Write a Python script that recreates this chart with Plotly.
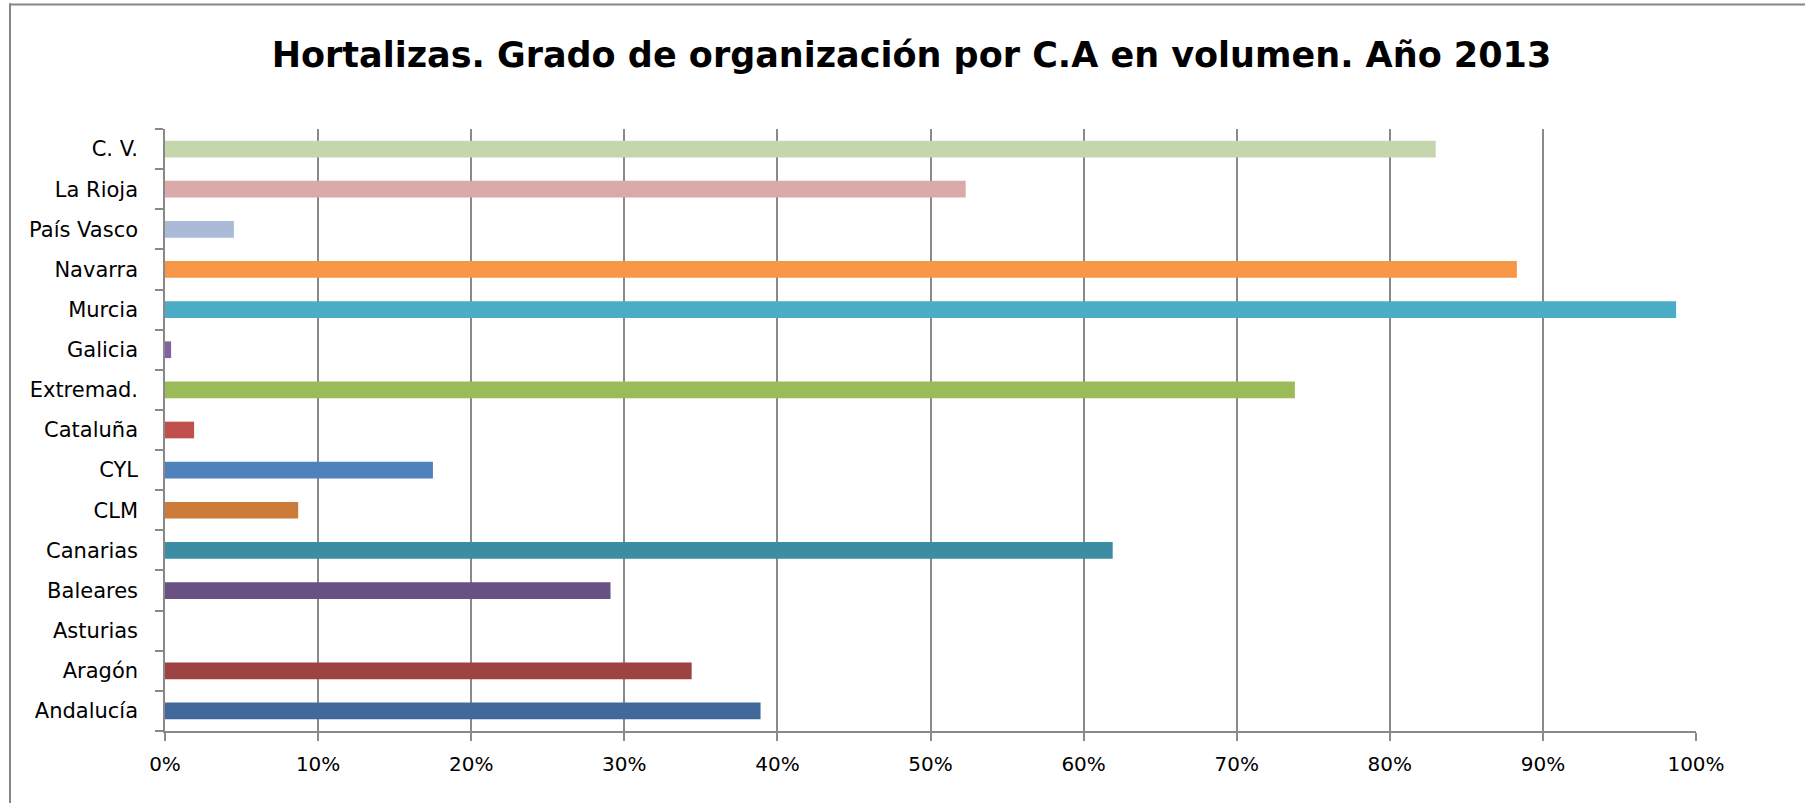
"""
Hortalizas: grado de organización por comunidad autónoma (volumen, 2013)
"""

import plotly.graph_objects as go

# Data (bottom to top, as drawn on the category axis)
regions = [
    "Andalucía", "Aragón", "Asturias", "Baleares", "Canarias", "CLM", "CYL",
    "Cataluña", "Extremad.", "Galicia", "Murcia", "Navarra", "País Vasco",
    "La Rioja", "C. V.",
]
share = [
    0.389, 0.344, 0.0, 0.291, 0.619, 0.087, 0.175,
    0.019, 0.738, 0.004, 0.987, 0.883, 0.045,
    0.523, 0.830,
]
bar_colors = [
    "#416A9B", "#9C4240", "#7F9A48", "#695185", "#3C8DA3", "#CC7B38", "#4F81BD",
    "#C0504D", "#9BBB59", "#8064A2", "#4BACC6", "#F79646", "#AABAD7",
    "#D9AAA9", "#C6D6AC",
]
x_ticks = [i / 10 for i in range(11)]
x_ticklabels = [f"{i * 10}%" for i in range(11)]

title = "Hortalizas. Grado de organización por C.A en volumen. Año 2013"

W, H = 1805, 803
M_L, M_R, M_T, M_B = 165, 109, 129, 72
PW, PH = W - M_L - M_R, H - M_T - M_B

grid_col = "#898989"
font_family = "DejaVu Sans, Verdana, sans-serif"

fig = go.Figure()

fig.add_trace(go.Bar(
    x=share,
    y=regions,
    orientation="h",
    marker=dict(color=bar_colors, line=dict(width=0)),
    hoverinfo="x+y",
))


# chart-area border: only its top and left edges fall inside the picture
def px_to_paper_x(px):
    return (px - M_L) / PW


def px_to_paper_y(py):
    return (H - M_B - py) / PH


border = dict(color="#868686", width=2)
fig.add_shape(
    type="line", xref="paper", yref="paper",
    x0=px_to_paper_x(9), x1=px_to_paper_x(W),
    y0=px_to_paper_y(4.5), y1=px_to_paper_y(4.5),
    line=border, layer="below",
)
fig.add_shape(
    type="line", xref="paper", yref="paper",
    x0=px_to_paper_x(10), x1=px_to_paper_x(10),
    y0=px_to_paper_y(3.5), y1=px_to_paper_y(H),
    line=border, layer="below",
)

fig.update_layout(
    width=W,
    height=H,
    margin=dict(l=M_L, r=M_R, t=M_T, b=M_B),
    paper_bgcolor="white",
    plot_bgcolor="white",
    showlegend=False,
    bargap=0.584,
    font=dict(family=font_family, color="black"),
    title=dict(
        text=f"<b>{title}</b>",
        x=911.5 / W,
        xanchor="center",
        xref="container",
        y=1 - 55 / H,
        yanchor="middle",
        yref="container",
        font=dict(size=35, family=font_family, color="black"),
    ),
    xaxis=dict(
        range=[0, 1],
        tickvals=x_ticks,
        ticktext=x_ticklabels,
        showgrid=True,
        gridcolor=grid_col,
        gridwidth=1.5,
        zeroline=False,
        showline=True,
        linecolor=grid_col,
        linewidth=1.5,
        ticks="outside",
        ticklen=8,
        tickcolor=grid_col,
        tickwidth=1.5,
        ticklabelstandoff=6,
        tickfont=dict(size=20, color="black"),
        fixedrange=True,
    ),
    yaxis=dict(
        type="category",
        categoryorder="array",
        categoryarray=regions,
        showgrid=False,
        zeroline=False,
        showline=True,
        linecolor=grid_col,
        linewidth=1.5,
        ticks="outside",
        tickson="boundaries",
        ticklen=8,
        tickcolor=grid_col,
        tickwidth=1.5,
        ticklabelstandoff=21,
        tickfont=dict(size=21, color="black"),
        fixedrange=True,
    ),
)

# drop the page's default body margin and any scrollbars, so the figure
# sits exactly in the window
page_fix = (
    "document.body.style.margin = '0';"
    "document.body.style.overflow = 'hidden';"
    "document.documentElement.style.overflow = 'hidden';"
)
fig.write_html(
    "out.html",
    config={"displayModeBar": False},
    post_script=page_fix,
)
